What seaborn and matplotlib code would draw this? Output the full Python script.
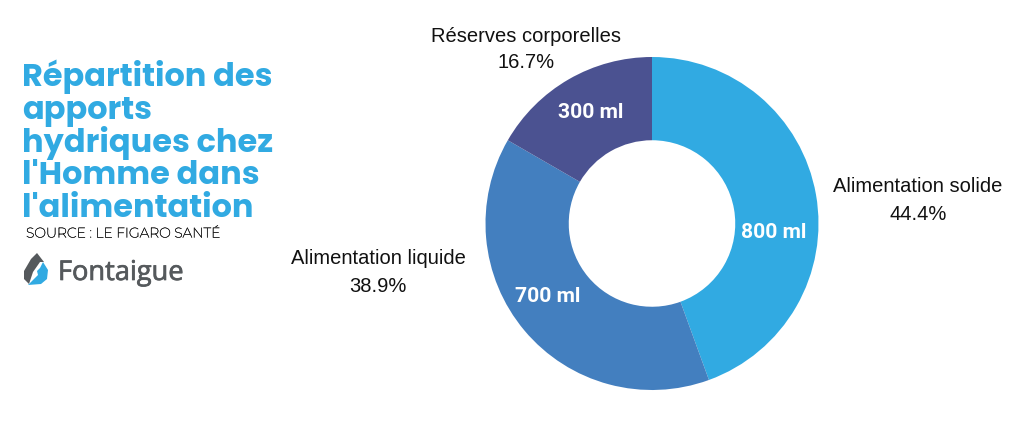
import matplotlib
matplotlib.use("Agg")
import matplotlib.pyplot as plt
import matplotlib.patheffects as pe
from matplotlib.patches import Polygon
import seaborn as sns

categories = ["Alimentation solide", "Alimentation liquide", "Réserves corporelles"]
volumes = [800, 700, 300]
volume_labels = ["800 ml", "700 ml", "300 ml"]
percents = ["44.4%", "38.9%", "16.7%"]
colors = ["#31aae2", "#437fbf", "#4b5291"]
title_lines = ["Répartition des", "apports", "hydriques chez", "l'Homme dans", "l'alimentation"]
source = "SOURCE : LE FIGARO SANTÉ"
brand = "Fontaigue"

sns.set_theme(style="white")
plt.rcParams["font.family"] = ["Liberation Sans", "DejaVu Sans"]

W, H = 1024, 432
fig = plt.figure(figsize=(W/100, H/100), dpi=100, facecolor="white")

cx, cy, R = 652, 223.5, 166.5
size = 2*R + 8
ax = fig.add_axes([(cx-size/2)/W, 1-(cy+size/2)/H, size/W, size/H])
ax.pie(volumes, colors=colors, startangle=90, counterclock=False, radius=1,
       wedgeprops=dict(width=0.5, linewidth=0))
ax.set_xlim(-size/2/R, size/2/R); ax.set_ylim(-size/2/R, size/2/R)
ax.set_aspect("equal"); ax.axis("off")

bg = fig.add_axes([0, 0, 1, 1], zorder=5)
bg.set_xlim(0, W); bg.set_ylim(H, 0); bg.axis("off")

for x, y, t in [(774, 233, volume_labels[0]), (548, 296, volume_labels[1]), (590.5, 112, volume_labels[2])]:
    bg.text(x, y, t, ha="center", va="center", color="white", fontsize=15.2,
            fontweight="bold", family=["Roboto", "DejaVu Sans"])

for x, y1, y2, c, p in [(918, 186, 214, categories[0], percents[0]),
                        (378, 258, 286, categories[1], percents[1]),
                        (526, 36, 63, categories[2], percents[2])]:
    bg.text(x, y1, c, ha="center", va="center", fontsize=14.5, color="#111111")
    bg.text(x, y2, p, ha="center", va="center", fontsize=14.5, color="#111111")

for i, line in enumerate(title_lines):
    bg.text(22, 86 + i*32.8, line, ha="left", va="baseline", fontsize=23.0, color="#31aae2",
            fontweight="bold", family=["Poppins", "Montserrat", "Open Sans", "DejaVu Sans"])

bg.text(26, 234, source, ha="left", va="center", fontsize=10.0, color="#222222",
        family=["Montserrat", "Open Sans", "DejaVu Sans"],
        path_effects=[pe.withStroke(linewidth=0.3, foreground="#222222")])
bg.text(58, 273, brand, ha="left", va="center", fontsize=19.6, color="#55595c",
        family=["Open Sans", "DejaVu Sans"],
        path_effects=[pe.withStroke(linewidth=0.5, foreground="#55595c")])

# logo: grey drop with blue swoosh
bg.add_patch(Polygon([(37, 253), (31, 259), (24, 271), (24, 279), (29, 284), (33, 272), (40, 262), (44, 262)],
                     closed=True, facecolor="#55595c", edgecolor="none"))
bg.add_patch(Polygon([(43, 262), (48, 270), (47, 279), (41, 284), (28, 285), (34, 279), (38, 275), (37, 271), (40, 268)],
                     closed=True, facecolor="#31aae2", edgecolor="none"))

fig.savefig("out.png", dpi=100, facecolor="white")
